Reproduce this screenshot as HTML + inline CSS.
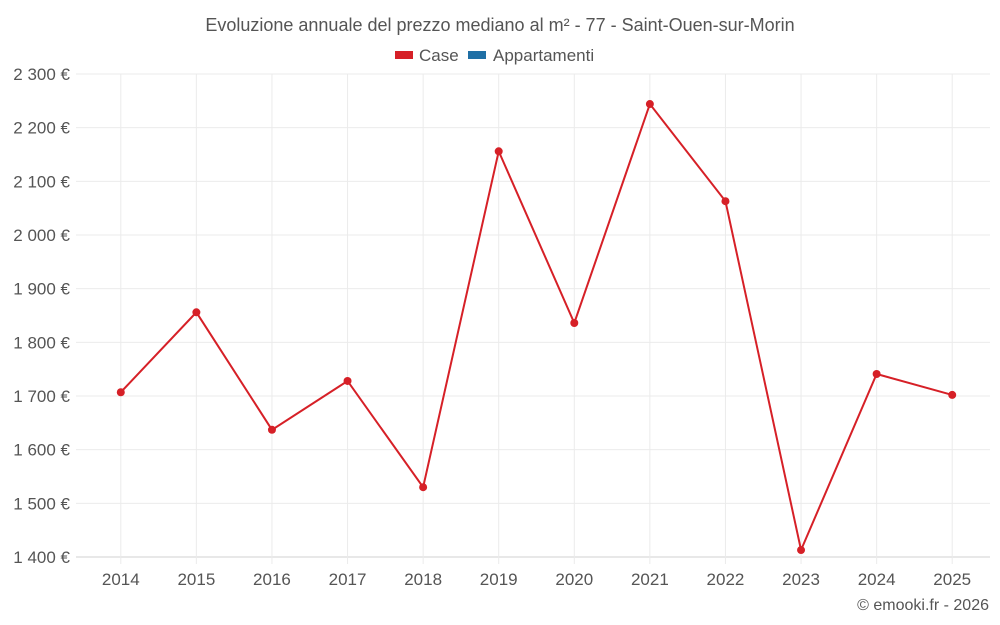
<!DOCTYPE html>
<html><head><meta charset="utf-8"><style>
html,body{margin:0;padding:0;background:#fff;}
svg{display:block;font-family:"Liberation Sans",sans-serif;}
</style></head><body>
<svg id="chart" width="1000" height="625">
<text x="500" y="31" text-anchor="middle" font-size="18" fill="#555">Evoluzione annuale del prezzo mediano al m² - 77 - Saint-Ouen-sur-Morin</text>
<g>
<g><rect x="395" y="51" width="18" height="8" fill="#d62027"/><text x="419" y="61" font-size="17" fill="#555">Case</text></g>
<g><rect x="468" y="51" width="18" height="8" fill="#1f6fa5"/><text x="493" y="61" font-size="17" fill="#555">Appartamenti</text></g>
</g>
<g id="grid"></g><g id="axes"></g><g id="series"></g>
<text x="989" y="610" text-anchor="end" font-size="16" fill="#555">© emooki.fr - 2026</text>
</svg>
<script>
const years = ["2014","2015","2016","2017","2018","2019","2020","2021","2022","2023","2024","2025"];
const caseValues = [1707,1856,1637,1728,1530,2156,1836,2244,2063,1413,1741,1702];
const yTicks = [1400,1500,1600,1700,1800,1900,2000,2100,2200,2300];
const NS="http://www.w3.org/2000/svg";
const L=83,R=990,T=74,B=557,ymin=1400,ymax=2300;
const bw=(R-L)/years.length;
const x=i=>L+bw*(i+0.5);
const y=v=>B-(v-ymin)/(ymax-ymin)*(B-T);
function mk(t,a,p){const e=document.createElementNS(NS,t);for(const k in a)e.setAttribute(k,a[k]);p.appendChild(e);return e;}
const g=document.getElementById('grid'),ax=document.getElementById('axes'),s=document.getElementById('series');
yTicks.forEach(v=>{
  const ln=mk('line',{x1:76,x2:R,y1:y(v),y2:y(v),stroke:v===ymin?'#d0d0d0':'#ebebeb','stroke-width':1},g);
  
  
  const t=mk('text',{x:70,y:y(v)+6,'text-anchor':'end','font-size':17,fill:'#555'},ax);
  t.textContent=String(v).replace(/\B(?=(\d{3})+$)/,' ')+' €';
  
  
});
years.forEach((yr,i)=>{
  const ln=mk('line',{x1:x(i),x2:x(i),y1:T,y2:B+7,stroke:'#ebebeb','stroke-width':1},g);
  
  
  const t=mk('text',{x:x(i),y:585,'text-anchor':'middle','font-size':17,fill:'#555'},ax);
  t.textContent=yr;
  
  
});
const p=mk('polyline',{points:caseValues.map((v,i)=>x(i)+','+y(v)).join(' '),fill:'none',stroke:'#d62027','stroke-width':2},s);


caseValues.forEach((v,i)=>{
  const c=mk('circle',{cx:x(i),cy:y(v),r:4,fill:'#d62027'},s);
  
  
});
</script>
</body></html>
